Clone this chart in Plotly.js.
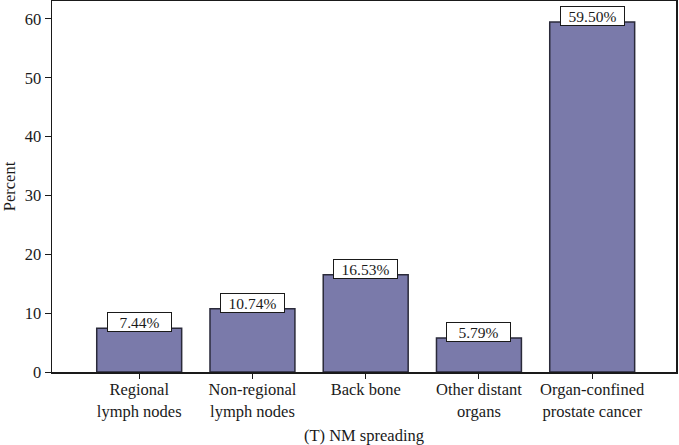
<!DOCTYPE html>
<html><head><meta charset="utf-8">
<script src="https://cdn.plot.ly/plotly-3.0.1.min.js"></script>
<style>html,body{margin:0;padding:0;background:#fff}#c{width:679px;height:445px}</style>
</head><body><div id="c"></div>
<script>
const categories = ["Regional<br>lymph nodes","Non-regional<br>lymph nodes","Back bone","Other distant<br>organs","Organ-confined<br>prostate cancer"];
const percents = [7.44, 10.74, 16.53, 5.79, 59.50];
const yTicks = [0, 10, 20, 30, 40, 50, 60];

const family = "Liberation Serif, Times New Roman, serif";
const font = {family: family, size: 16.5, color: "#1a1a1a"};
const annFont = {family: family, size: 15.5, color: "#1a1a1a"};
const xIdx = categories.map((c, i) => i);

const trace = {
  type: "bar", x: xIdx, y: percents, width: 0.75,
  marker: {color: "#7a7aaa", line: {color: "#2a2a3a", width: 1.5}},
  hoverinfo: "skip"
};
const annotations = percents.map((v, i) => ({
  x: i, y: v, xref: "x", yref: "y", text: v.toFixed(2) + "%",
  showarrow: false, yanchor: "bottom", yshift: -4, xanchor: "center",
  bgcolor: "#ffffff", bordercolor: "#1a1a1a", borderwidth: 1, borderpad: 1,
  width: 61, height: 16, font: annFont
}));
const layout = {
  width: 679, height: 445,
  margin: {l: 52, r: 3, t: 1, b: 73},
  paper_bgcolor: "#fff", plot_bgcolor: "#fff",
  font: font, showlegend: false, bargap: 0,
  xaxis: {
    range: [-0.77, 4.74], tickvals: xIdx, ticktext: categories,
    showline: true, linecolor: "#1a1a1a", linewidth: 1.5, mirror: true,
    ticks: "outside", ticklen: 5, tickcolor: "#1a1a1a", showgrid: false, zeroline: false,
    ticklabelstandoff: -3,
    title: {text: "(T) NM spreading", font: font, standoff: 9}, tickfont: font
  },
  yaxis: {
    range: [0, 63.05], tickvals: yTicks,
    showline: true, linecolor: "#1a1a1a", linewidth: 1.5, mirror: true,
    ticks: "outside", ticklen: 6, tickcolor: "#1a1a1a", showgrid: false, zeroline: false,
    title: {text: "Percent", font: font, standoff: 8}, tickfont: font
  },
  annotations: annotations
};
Plotly.newPlot("c", [trace], layout, {staticPlot: true, displayModeBar: false});
</script></body></html>
